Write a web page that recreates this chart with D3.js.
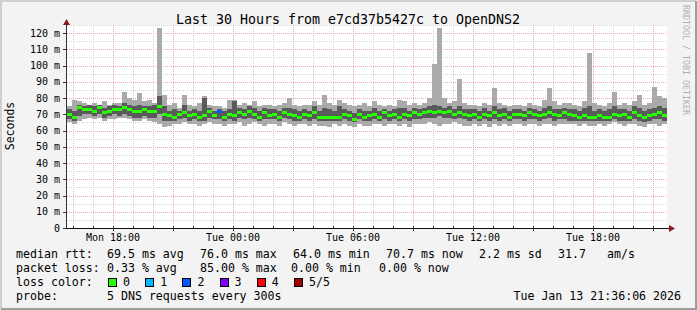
<!DOCTYPE html>
<html>
<head>
<meta charset="utf-8">
<script src="https://cdn.jsdelivr.net/npm/d3@7"></script>
<style>
  body { margin: 0; background: #f3f3f3; }
  svg text { font-family: "DejaVu Sans Mono", monospace; }
</style>
</head>
<body>
<svg id="chart" width="697" height="310"></svg>
<script>
(function(){
    'use strict';

    // 15 minute bins, first one starts Mon 15:42
    var medianMs = [70,68,74,73,73,72,74,71,72,73, 73,74,73,72,72,73,72,72,75,70,
                    69,68,70,71,69,70,68,69,72,69, 72,68,70,69,71,70,72,70,68,71,
                    69,70,68,71,70,69,68,70,69,71, 68,68,68,68,68,70,69,67,70,68,
                    69,70,68,71,69,70,68,70,69,71, 70,71,72,71,72,71,72,70,71,70,
                    69,70,68,70,69,71,69,70,68,70, 70,69,71,70,69,70,71,70,69,71,
                    70,69,68,69,68,68,69,68,68,70, 69,70,68,71,69,68,69,70,71,69];
    var maxMs =    [75,79,78,77,76,77,76,78,76,77, 77,84,80,79,83,78,79,77,123,82,
                    76,77,74,82,76,75,77,81,76,75, 75,74,79,79,76,77,76,78,75,76,
                    76,75,76,77,80,76,75,76,76,78, 76,82,77,76,79,77,76,75,76,77,
                    75,78,76,75,76,75,79,78,76,77, 76,77,80,101,123,80,77,78,92,77,
                    76,76,75,77,76,86,77,76,75,76, 76,75,77,76,75,79,86,78,76,77,
                    77,76,75,78,108,77,76,75,77,84, 76,77,76,78,82,76,77,87,81,80];
    var minMs =    [65,64,66,67,68,67,68,66,67,67, 68,68,67,66,66,67,66,65,64,62,
                    63,64,64,65,64,64,63,64,65,64, 64,63,64,64,65,63,64,65,64,63,
                    64,64,63,65,64,63,64,64,63,64, 63,63,62,64,63,64,63,62,64,63,
                    63,64,64,63,64,64,63,64,62,64, 64,64,65,64,63,64,64,65,64,63,
                    63,64,63,64,62,64,63,64,63,64, 64,63,64,64,63,64,64,63,64,64,
                    64,64,63,64,63,63,64,63,64,65, 64,63,64,64,63,62,64,64,63,64];
    var lowMs =    [67,66,69,70,70,69,70,68,69,70, 69,70,69,68,68,69,68,68,70,66,
                    66,66,67,68,66,67,66,66,68,67, 67,66,67,66,68,67,68,67,66,67,
                    67,67,66,68,67,66,66,67,66,67, 66,66,66,66,66,67,66,65,67,66,
                    66,67,66,67,66,67,66,67,66,67, 67,68,68,68,69,68,68,67,68,67,
                    66,67,66,67,66,67,66,67,66,67, 67,66,67,67,66,67,68,66,67,67,
                    66,66,66,66,66,66,66,66,66,67, 66,66,66,67,66,65,66,67,67,66];
    var highMs =   [73,72,76,75,76,75,76,74,75,76, 75,77,76,75,76,75,75,76,81,75,
                    72,73,72,76,72,73,72,80,74,72, 73,72,73,78,74,73,75,74,72,74,
                    73,73,72,74,74,73,72,73,72,75, 72,74,73,72,75,73,72,71,73,72,
                    72,74,72,73,72,73,74,74,72,74, 73,74,75,76,75,74,75,73,75,73,
                    73,73,72,74,72,75,73,74,72,73, 73,72,74,73,72,74,75,73,73,74,
                    73,73,72,74,75,72,73,72,73,75, 73,73,72,75,74,72,73,74,75,74];
    // lost pings (of 5) per bin
    var lossCount = [0,0,0,0,0,0,0,0,0,0, 0,0,0,0,0,0,0,0,0,0,
                     0,0,0,0,0,0,0,0,0,0, 2,0,0,0,0,0,0,0,0,0,
                     0,0,0,0,0,0,0,0,0,0, 0,0,0,0,0,0,0,0,0,0,
                     0,0,0,0,0,0,0,0,0,0, 0,0,0,0,0,0,0,0,0,0,
                     0,0,0,0,0,0,0,0,0,0, 0,0,0,0,0,0,0,0,0,0,
                     0,0,0,0,0,0,0,0,0,0, 0,0,0,0,0,0,0,0,0,0];
    var lossLabels = ['0','1','2','3','4','5/5'];
    var lossColors = ['#26ff00','#00b8ff','#0059ff','#7e00ff','#ff0000','#a00000'];
    var yTicks = [0,10,20,30,40,50,60,70,80,90,100,110,120];

    var start = new Date(2026,0,12,15,42), end = new Date(2026,0,13,21,42);
    var binMs = 15*60*1000;

    var svg = d3.select('#chart');

    // frame
    svg.append('rect').attr('width',697).attr('height',310).attr('fill','#f3f3f3');
    svg.append('path').attr('d','M1,309V1H696').attr('stroke','#cfcfcf').attr('stroke-width',2).attr('fill','none');
    svg.append('path').attr('d','M1,309H696V1').attr('stroke','#9e9e9e').attr('stroke-width',2).attr('fill','none');

    var x = d3.scaleTime().domain([start,end]).range([67,667]);
    var y = d3.scaleLinear().domain([0,125]).range([228,25]);

    svg.append('rect').attr('x',67).attr('y',25).attr('width',600).attr('height',203).attr('fill','#fff');

    // grid
    var g = svg.append('g').attr('shape-rendering','crispEdges');
    g.selectAll('.hmin').data(d3.range(5,126,5)).enter().append('line')
        .attr('x1',67).attr('x2',667)
        .attr('y1',function(d){return Math.round(y(d))+0.5;}).attr('y2',function(d){return Math.round(y(d))+0.5;})
        .attr('stroke',function(d){return d%10===0?'#eeaaaa':'#d4d4d4';})
        .attr('stroke-dasharray','1,1');
    g.selectAll('.vmin').data(d3.timeHour.range(start,end)).enter().append('line')
        .attr('x1',function(d){return Math.round(x(d))+0.5;}).attr('x2',function(d){return Math.round(x(d))+0.5;})
        .attr('y1',25).attr('y2',228)
        .attr('stroke',function(d){return d.getHours()%3===0?'#eeaaaa':'#d4d4d4';})
        .attr('stroke-dasharray','1,1');

    // smoke
    var bins = medianMs.map(function(m,i){
        return {t0:new Date(+start+i*binMs), t1:new Date(+start+(i+1)*binMs),
                med:m, min:minMs[i], max:maxMs[i], lo:lowMs[i], hi:highMs[i], loss:lossCount[i]};
    });
    var smoke = svg.append('g').attr('shape-rendering','crispEdges');
    smoke.selectAll('.outer').data(bins).enter().append('rect')
        .attr('x',function(d){return x(d.t0);})
        .attr('width',function(d){return x(d.t1)-x(d.t0);})
        .attr('y',function(d){return y(d.max);})
        .attr('height',function(d){return y(d.min)-y(d.max);})
        .attr('fill','#aaaaaa');
    smoke.selectAll('.inner').data(bins).enter().append('rect')
        .attr('x',function(d){return x(d.t0);})
        .attr('width',function(d){return x(d.t1)-x(d.t0);})
        .attr('y',function(d){return y(d.hi);})
        .attr('height',function(d){return y(d.lo)-y(d.hi);})
        .attr('fill','#5a5a5a');
    smoke.selectAll('.med').data(bins).enter().append('rect')
        .attr('x',function(d){return x(d.t0);})
        .attr('width',function(d){return x(d.t1)-x(d.t0);})
        .attr('y',function(d){return y(d.med)-1.5;})
        .attr('height',3)
        .attr('fill',function(d){return lossColors[d.loss];});

    // axes
    var ax = svg.append('g').attr('shape-rendering','crispEdges');
    ax.append('line').attr('x1',66.5).attr('x2',66.5).attr('y1',228).attr('y2',24).attr('stroke','#333');
    ax.append('line').attr('x1',66).attr('x2',670).attr('y1',228.5).attr('y2',228.5).attr('stroke','#111');
    svg.append('path').attr('d','M63,25L70,25L66.5,19Z').attr('fill','#8b1a1a');
    svg.append('path').attr('d','M669,225L675,228.5L669,232Z').attr('fill','#8b1a1a');

    ax.selectAll('.yt').data(yTicks).enter().append('line')
        .attr('x1',63).attr('x2',67)
        .attr('y1',function(d){return Math.round(y(d))+0.5;}).attr('y2',function(d){return Math.round(y(d))+0.5;})
        .attr('stroke','#333');
    ax.selectAll('.xt').data(d3.timeHour.range(start,end)).enter().append('line')
        .attr('x1',function(d){return Math.round(x(d))+0.5;}).attr('x2',function(d){return Math.round(x(d))+0.5;})
        .attr('y1',226).attr('y2',function(d){return d.getHours()%3===0?231:228;})
        .attr('stroke','#333');

    svg.selectAll('.yl').data(yTicks).enter().append('text')
        .attr('x',60).attr('y',function(d){return y(d)+3.5;})
        .attr('text-anchor','end').attr('font-size','10px').attr('fill','#000')
        .text(function(d){return d===0?'0':d+' m';});

    var fmt = d3.timeFormat('%a %H:%M');
    svg.selectAll('.xl').data(x.ticks(d3.timeHour.every(6))).enter().append('text')
        .attr('x',function(d){return x(d);}).attr('y',241)
        .attr('text-anchor','middle').attr('font-size','10px').attr('fill','#000')
        .text(fmt);

    // titles
    svg.append('text').attr('x',348).attr('y',23.5).attr('text-anchor','middle')
        .attr('font-size','13.3px').attr('fill','#000')
        .text('Last 30 Hours from e7cd37b5427c to OpenDNS2');
    svg.append('text').attr('transform','translate(14,126) rotate(-90)')
        .attr('text-anchor','middle').attr('font-size','11.5px').attr('fill','#000')
        .text('Seconds');
    svg.append('text').attr('transform','translate(683,5) rotate(90)')
        .attr('font-size','8.3px').attr('fill','#b0b0b0')
        .text('RRDTOOL / TOBI OETIKER');

    // legend
    var rows = [
        [['median rtt:',16],['69.5 ms avg',107],['76.0 ms max',200],['64.0 ms min',293],['70.7 ms now',386],['2.2 ms sd',479],['31.7',558],['am/s',607]],
        [['packet loss:',16],['0.33 % avg',107],['85.00 % max',200],['0.00 % min',291],['0.00 % now',379]],
        [['loss color:',16]],
        [['probe:',16],['5 DNS requests every 300s',107]]
    ];
    rows.forEach(function(r,i){
        r.forEach(function(p){
            svg.append('text').attr('x',p[1]).attr('y',258+i*14)
                .attr('font-size','11.6px').attr('fill','#000')
                .attr('xml:space','preserve').text(p[0]);
        });
    });
    var lg = svg.selectAll('.lc').data(lossLabels).enter().append('g')
        .attr('transform',function(d,i){return 'translate('+(108+i*37.2)+',278)';});
    lg.append('rect').attr('x',0.5).attr('y',0.5).attr('width',8).attr('height',8)
        .attr('fill',function(d,i){return lossColors[i];}).attr('stroke','#000').attr('shape-rendering','crispEdges');
    lg.append('text').attr('x',15).attr('y',8).attr('font-size','11.6px').attr('fill','#000').text(function(d){return d;});

    svg.append('text').attr('x',681).attr('y',300).attr('text-anchor','end')
        .attr('font-size','11.6px').attr('fill','#000')
        .text('Tue Jan 13 21:36:06 2026');
}());
</script>
</body>
</html>
